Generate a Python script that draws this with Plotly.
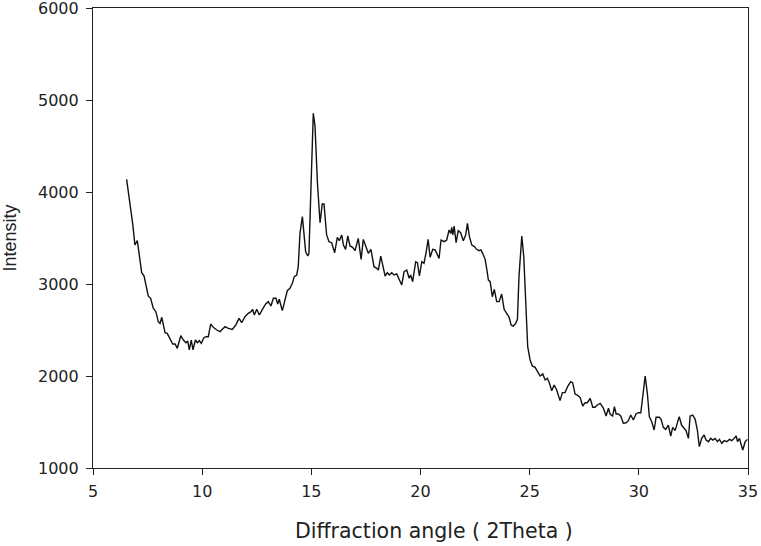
import plotly.graph_objects as go

two_theta = [
    6.54, 6.69, 6.82, 6.92, 7.03, 7.23, 7.34, 7.53, 7.64, 7.76, 7.88, 7.99, 8.07, 8.15, 8.30, 8.40,
    8.53, 8.65, 8.76, 8.86, 9.02, 9.14, 9.26, 9.34, 9.41, 9.50, 9.58, 9.69, 9.78, 9.87, 9.96,
    10.08, 10.18, 10.28, 10.39, 10.51, 10.67, 10.82, 10.89,
    11.05, 11.20, 11.38, 11.54, 11.69, 11.81, 11.96, 12.11, 12.24, 12.31, 12.39, 12.50, 12.62,
    12.76, 12.91, 13.03, 13.15, 13.26, 13.38, 13.46, 13.53, 13.67, 13.80, 13.90, 14.02, 14.13,
    14.22, 14.33, 14.40, 14.48, 14.59, 14.67, 14.74, 14.84, 14.89, 14.99, 15.09, 15.17, 15.28,
    15.40, 15.50, 15.58, 15.70, 15.81, 15.93,
    16.07, 16.19, 16.28, 16.39, 16.47, 16.57, 16.67, 16.77, 16.89, 17.00, 17.15, 17.28, 17.38,
    17.51, 17.61, 17.73, 17.87, 18.00, 18.07, 18.18, 18.30, 18.38, 18.48, 18.57, 18.68, 18.79,
    18.91, 19.03, 19.14, 19.25, 19.37, 19.48, 19.55, 19.64, 19.78, 19.86, 19.95, 20.06, 20.16,
    20.25, 20.35, 20.44, 20.56,
    20.67, 20.85, 20.94, 21.09, 21.20, 21.31, 21.39, 21.43, 21.48, 21.54, 21.63, 21.73, 21.84,
    21.96, 22.07, 22.15, 22.24, 22.35, 22.47, 22.57, 22.68, 22.77, 22.88, 22.96, 23.03, 23.11,
    23.19, 23.29, 23.38, 23.49, 23.60, 23.72, 23.83, 23.95, 24.06, 24.15, 24.25, 24.36, 24.44,
    24.51, 24.64, 24.73, 24.82, 24.91, 25.02, 25.12, 25.25, 25.37,
    25.48, 25.60, 25.71, 25.81, 25.90, 26.01, 26.12, 26.24, 26.39, 26.50, 26.62, 26.75, 26.88,
    26.97, 27.08, 27.18, 27.31, 27.43, 27.54, 27.64, 27.77, 27.89, 27.99, 28.10,
    28.23, 28.38, 28.50, 28.61, 28.68, 28.80, 28.88, 28.96, 29.06, 29.17, 29.29, 29.42, 29.52,
    29.63, 29.75, 29.87, 29.98, 30.09, 30.18, 30.29, 30.39, 30.48, 30.59, 30.70, 30.79, 30.94,
    31.02, 31.12, 31.23, 31.35, 31.46, 31.55, 31.66, 31.76, 31.85, 31.96, 32.07, 32.16, 32.27,
    32.35, 32.47, 32.58, 32.68, 32.77, 32.88, 32.99, 33.08, 33.19, 33.29, 33.39, 33.49, 33.60,
    33.69, 33.80, 33.91, 34.03, 34.15, 34.26, 34.37, 34.46, 34.52, 34.61, 34.67, 34.76, 34.87,
    34.97,
]

intensity = [
    4138, 3880, 3650, 3424, 3471, 3123, 3087, 2870, 2845, 2736, 2699, 2590, 2572, 2638, 2471, 2464,
    2399, 2348, 2348, 2301, 2438, 2391, 2362, 2380, 2283, 2391, 2283, 2391, 2362, 2384, 2355,
    2416, 2427, 2427, 2565, 2529, 2500, 2482, 2500,
    2536, 2518, 2507, 2554, 2627, 2579, 2645, 2681, 2699, 2725, 2663, 2725, 2663,
    2725, 2783, 2808, 2761, 2845, 2845, 2783, 2834, 2710, 2834, 2927, 2953, 3008,
    3080, 3098, 3188, 3551, 3732, 3551, 3351, 3304, 3334, 4095, 4855, 4710, 4095,
    3666, 3870, 3870, 3533, 3460, 3449,
    3340, 3508, 3471, 3533, 3424, 3377, 3522, 3413, 3399, 3362, 3496, 3268, 3485,
    3388, 3334, 3377, 3188, 3170, 3152, 3304, 3170, 3087, 3123, 3098, 3123, 3098,
    3109, 3051, 2989, 3134, 3152, 3062, 3098, 3025, 3242, 3232, 3087, 3242, 3225,
    3334, 3485, 3290, 3377,
    3370, 3279, 3478, 3460, 3478, 3587, 3551, 3616, 3533, 3630, 3449, 3580, 3558,
    3471, 3533, 3660, 3514, 3424, 3406, 3377, 3362, 3370, 3315, 3268, 3170, 3043,
    3025, 2862, 2942, 2808, 2808, 2891, 2725, 2674, 2638, 2554, 2543, 2572, 2616,
    3080, 3522, 3297, 2790, 2318, 2174, 2109, 2094, 2047,
    2000, 2022, 1957, 1975, 1927, 1840, 1902, 1848, 1732, 1819, 1819, 1891, 1938,
    1927, 1804, 1793, 1768, 1674, 1710, 1710, 1758, 1660, 1660, 1685,
    1703, 1649, 1565, 1649, 1587, 1565, 1666, 1587, 1587, 1565, 1486, 1492, 1514,
    1576, 1522, 1587, 1601, 1601, 1793, 2000, 1812, 1558, 1503, 1413, 1551, 1551,
    1529, 1442, 1420, 1467, 1348, 1442, 1406, 1486, 1558, 1464, 1431, 1406, 1322,
    1565, 1576, 1529, 1413, 1232, 1322, 1359, 1304, 1286, 1322, 1304, 1322, 1286,
    1311, 1268, 1297, 1286, 1311, 1297, 1322, 1348, 1286, 1322, 1268, 1196, 1286,
    1311,
]

x_ticks = [5, 10, 15, 20, 25, 30, 35]
y_ticks = [1000, 2000, 3000, 4000, 5000, 6000]
x_title = "Diffraction angle ( 2Theta )"
y_title = "Intensity"

fig = go.Figure()
fig.add_trace(go.Scatter(
    x=two_theta, y=intensity, mode="lines",
    line=dict(color="#111111", width=1.4),
    showlegend=False, hoverinfo="skip",
))

axis_common = dict(
    showline=True, linecolor="#222222", linewidth=1.2, mirror=True,
    ticks="outside", ticklen=6, tickwidth=1.2, tickcolor="#222222",
    showgrid=False, zeroline=False, automargin=False,
    ticklabeloverflow="allow",
    tickfont=dict(family="DejaVu Sans", size=16, color="#222222"),
)

fig.update_layout(
    width=761, height=546,
    margin=dict(l=93, r=13, t=8, b=78, autoexpand=False),
    paper_bgcolor="white", plot_bgcolor="white",
    xaxis=dict(
        range=[5, 35], tickvals=x_ticks, ticktext=[str(v) for v in x_ticks],
        ticklabelstandoff=3,
        **axis_common,
    ),
    yaxis=dict(
        range=[1000, 6000], tickvals=y_ticks, ticktext=[str(v) for v in y_ticks],
        ticklabelstandoff=4,
        title=dict(text=y_title,
                   font=dict(family="Liberation Sans", size=18, color="#222222"),
                   standoff=16),
        **axis_common,
    ),
    annotations=[dict(
        text=x_title, xref="paper", yref="paper",
        x=0.52, y=-0.137, xanchor="center", yanchor="middle",
        showarrow=False,
        font=dict(family="DejaVu Sans", size=20.5, color="#222222"),
    )],
)

fig.write_html(
    "out.html",
    config={"displayModeBar": False},
    post_script="document.body.style.margin='0';document.body.style.padding='0';",
)
